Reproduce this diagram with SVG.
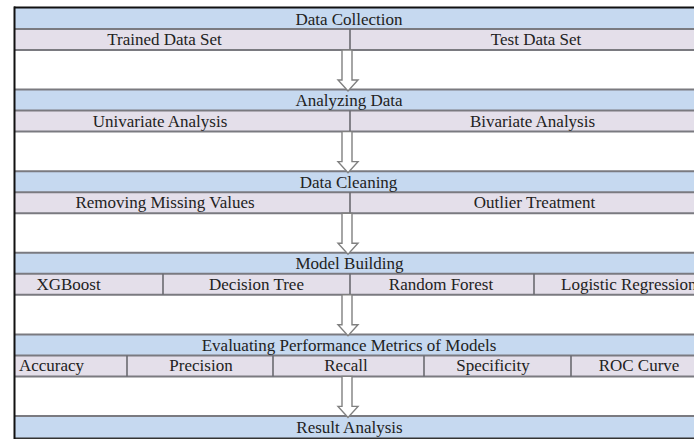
<svg xmlns="http://www.w3.org/2000/svg" width="694" height="439" viewBox="0 0 694 439">
<style>
.bg{fill:#ffffff}
.blue{fill:#c6d9f0}
.pink{fill:#e4dfea}
.hl{stroke:#7a7a80;stroke-width:2;fill:none}
.vl{stroke:#6a6a70;stroke-width:1.6;fill:none}
text{font-family:"Liberation Serif","Times New Roman",serif;font-size:17px;fill:#222222}
.c{text-anchor:middle}
.arrow{fill:#ffffff;stroke:#808080;stroke-width:1.4;stroke-linejoin:miter}
</style>
<defs>
<path id="arr" d="M342,0 H352 V30 H358 L348,41 L338,30 H342 Z"/>
</defs>
<rect class="bg" x="0" y="0" width="694" height="439"/>

<g id="data-collection">
<rect class="blue" x="14" y="8" width="680" height="21"/>
<rect class="pink" x="14" y="29" width="680" height="21"/>
<line class="hl" x1="14" y1="29" x2="694" y2="29"/>
<line class="hl" x1="14" y1="50" x2="694" y2="50"/>
<line class="vl" x1="350" y1="29" x2="350" y2="50"/>
<text class="c" x="349" y="24.5">Data Collection</text>
<text class="c" x="164.5" y="45">Trained Data Set</text>
<text class="c" x="536" y="45">Test Data Set</text>
</g>

<g id="analyzing-data">
<rect class="blue" x="14" y="89.6" width="680" height="21"/>
<rect class="pink" x="14" y="110.6" width="680" height="21"/>
<line class="hl" x1="14" y1="89.6" x2="694" y2="89.6"/>
<line class="hl" x1="14" y1="110.6" x2="694" y2="110.6"/>
<line class="hl" x1="14" y1="131.6" x2="694" y2="131.6"/>
<line class="vl" x1="350" y1="110.6" x2="350" y2="131.6"/>
<text class="c" x="349" y="106">Analyzing Data</text>
<text class="c" x="160" y="126.5">Univariate Analysis</text>
<text class="c" x="532.5" y="126.5">Bivariate Analysis</text>
</g>

<g id="data-cleaning">
<rect class="blue" x="14" y="171.2" width="680" height="21"/>
<rect class="pink" x="14" y="192.2" width="680" height="21"/>
<line class="hl" x1="14" y1="171.2" x2="694" y2="171.2"/>
<line class="hl" x1="14" y1="192.2" x2="694" y2="192.2"/>
<line class="hl" x1="14" y1="213.2" x2="694" y2="213.2"/>
<line class="vl" x1="350" y1="192.2" x2="350" y2="213.2"/>
<text class="c" x="348.5" y="187.5">Data Cleaning</text>
<text class="c" x="165" y="208">Removing Missing Values</text>
<text class="c" x="534.5" y="208">Outlier Treatment</text>
</g>

<g id="model-building">
<rect class="blue" x="14" y="252.8" width="680" height="21"/>
<rect class="pink" x="14" y="273.8" width="680" height="21"/>
<line class="hl" x1="14" y1="252.8" x2="694" y2="252.8"/>
<line class="hl" x1="14" y1="273.8" x2="694" y2="273.8"/>
<line class="hl" x1="14" y1="294.8" x2="694" y2="294.8"/>
<line class="vl" x1="163" y1="273.8" x2="163" y2="294.8"/>
<line class="vl" x1="350" y1="273.8" x2="350" y2="294.8"/>
<line class="vl" x1="534" y1="273.8" x2="534" y2="294.8"/>
<text class="c" x="349.5" y="269">Model Building</text>
<text class="c" x="68.5" y="289.5">XGBoost</text>
<text class="c" x="256.5" y="289.5">Decision Tree</text>
<text class="c" x="441" y="289.5">Random Forest</text>
<text x="561" y="289.5">Logistic Regression</text>
</g>

<g id="evaluating-performance">
<rect class="blue" x="14" y="334.4" width="680" height="21"/>
<rect class="pink" x="14" y="355.4" width="680" height="21"/>
<line class="hl" x1="14" y1="334.4" x2="694" y2="334.4"/>
<line class="hl" x1="14" y1="355.4" x2="694" y2="355.4"/>
<line class="hl" x1="14" y1="376.4" x2="694" y2="376.4"/>
<line class="vl" x1="127" y1="355.4" x2="127" y2="376.4"/>
<line class="vl" x1="273" y1="355.4" x2="273" y2="376.4"/>
<line class="vl" x1="424" y1="355.4" x2="424" y2="376.4"/>
<line class="vl" x1="571" y1="355.4" x2="571" y2="376.4"/>
<text class="c" x="349" y="350.5">Evaluating Performance Metrics of Models</text>
<text class="c" x="51.5" y="371">Accuracy</text>
<text class="c" x="201" y="371">Precision</text>
<text class="c" x="346" y="371">Recall</text>
<text class="c" x="493" y="371">Specificity</text>
<text class="c" x="639" y="371">ROC Curve</text>
</g>

<g id="result-analysis">
<rect class="blue" x="14" y="416" width="680" height="22"/>
<line class="hl" x1="14" y1="416" x2="694" y2="416"/>
<text class="c" x="349.5" y="432.5">Result Analysis</text>
</g>

<g id="frame">
<line x1="14" y1="7.5" x2="694" y2="7.5" stroke="#111" stroke-width="2"/>
<line x1="14" y1="438.2" x2="694" y2="438.2" stroke="#333" stroke-width="1.6"/>
<line x1="14.5" y1="6.5" x2="14.5" y2="439" stroke="#111" stroke-width="2"/>
</g>

<g id="connectors">
<use href="#arr" class="arrow" transform="translate(0,50)"/>
<use href="#arr" class="arrow" transform="translate(0,131.6)"/>
<use href="#arr" class="arrow" transform="translate(0,213.2)"/>
<use href="#arr" class="arrow" transform="translate(0,294.8)"/>
<use href="#arr" class="arrow" transform="translate(0,376.4)"/>
</g>
</svg>
